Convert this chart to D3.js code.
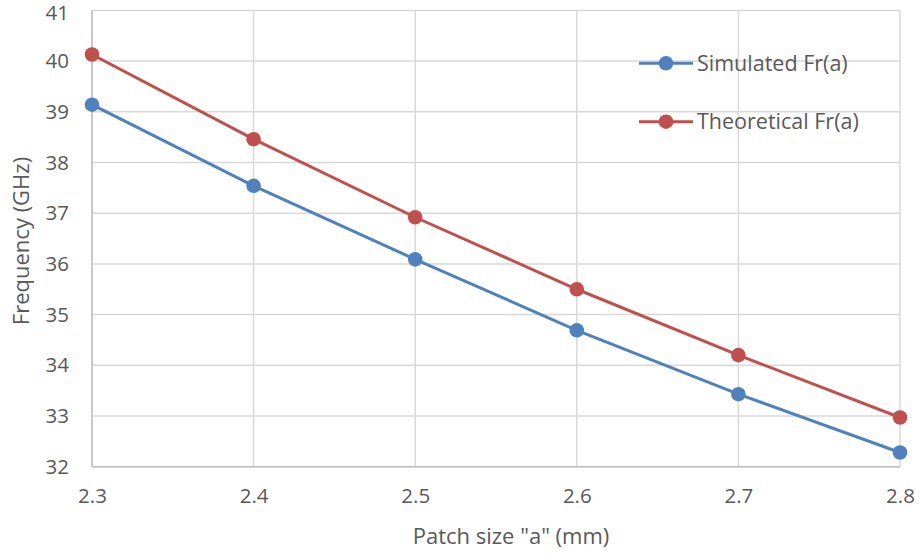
<!DOCTYPE html>
<html><head><meta charset="utf-8">
<script src="https://cdn.jsdelivr.net/npm/d3@7"></script>
<style>body{margin:0;background:#fff;} text{font-family:"Open Sans",sans-serif;fill:#595959;}</style>
</head><body>
<svg id="c" width="920" height="556"></svg>
<script>
const xValues = [2.3, 2.4, 2.5, 2.6, 2.7, 2.8];
const simulated = [39.14, 37.54, 36.09, 34.69, 33.43, 32.28];
const theoretical = [40.13, 38.46, 36.92, 35.50, 34.20, 32.97];
const yTicks = [32, 33, 34, 35, 36, 37, 38, 39, 40, 41];
const seriesNames = ["Simulated Fr(a)", "Theoretical Fr(a)"];
const colors = ["#4F81BD", "#C0504D"];

const FS = "21.5px";
const TFS = "20.5px";
const svg = d3.select("#c");
const x = d3.scaleLinear().domain([2.3, 2.8]).range([92, 900]);
const y = d3.scaleLinear().domain([32, 41]).range([466.7, 10.4]);

// gridlines
svg.append("g").selectAll("line").data(yTicks).join("line")
  .attr("x1", x(2.3)).attr("x2", x(2.8)).attr("y1", d => y(d)).attr("y2", d => y(d))
  .attr("stroke", "#D9D9D9").attr("stroke-width", 1.5);
svg.append("g").selectAll("line").data(xValues).join("line")
  .attr("y1", y(32)).attr("y2", y(41)).attr("x1", d => x(d)).attr("x2", d => x(d))
  .attr("stroke", "#D9D9D9").attr("stroke-width", 1.5);
// axes lines
svg.append("line").attr("x1", x(2.3)).attr("x2", x(2.8)).attr("y1", y(32)).attr("y2", y(32)).attr("stroke", "#BFBFBF").attr("stroke-width", 1.5);
svg.append("line").attr("x1", x(2.3)).attr("x2", x(2.3)).attr("y1", y(32)).attr("y2", y(41)).attr("stroke", "#BFBFBF").attr("stroke-width", 1.5);

// axis tick labels via d3 axes
const yAxis = svg.append("g").attr("transform", `translate(${x(2.3)},0)`)
  .call(d3.axisLeft(y).tickValues(yTicks).tickSize(0).tickPadding(23).tickFormat(d3.format("d")));
yAxis.select(".domain").remove();
yAxis.selectAll("text").style("font-size", TFS).attr("fill", "#595959");
yAxis.selectAll("text").filter(d => d === 41).attr("dy", "0.42em");
const xAxis = svg.append("g").attr("transform", `translate(0,${y(32)})`)
  .call(d3.axisBottom(x).tickValues(xValues).tickSize(0).tickPadding(22).tickFormat(d3.format(".1f")));
xAxis.select(".domain").remove();
xAxis.selectAll("text").style("font-size", TFS).attr("fill", "#595959");

// series
[simulated, theoretical].forEach((vals, i) => {
  const pts = xValues.map((xv, j) => [xv, vals[j]]);
  svg.append("path").datum(pts)
    .attr("d", d3.line().x(d => x(d[0])).y(d => y(d[1])))
    .attr("fill", "none").attr("stroke", colors[i]).attr("stroke-width", 3);
  svg.append("g").selectAll("circle").data(pts).join("circle")
    .attr("cx", d => x(d[0])).attr("cy", d => y(d[1])).attr("r", 7.3).attr("fill", colors[i]);
});

// axis titles
svg.append("text").attr("x", 511).attr("y", 544).attr("text-anchor", "middle").style("font-size", "22px").text('Patch size "a" (mm)');
svg.append("text").attr("transform", "translate(29,241) rotate(-90)").attr("text-anchor", "middle").style("font-size", "22px").text("Frequency (GHz)");

// legend
const leg = svg.append("g");
seriesNames.forEach((n, i) => {
  const ly = [63.3, 121.7][i];
  leg.append("line").attr("x1", 639).attr("x2", 693).attr("y1", ly).attr("y2", ly).attr("stroke", colors[i]).attr("stroke-width", 3);
  leg.append("circle").attr("cx", 666).attr("cy", ly).attr("r", 7.3).attr("fill", colors[i]);
  leg.append("text").attr("x", 697).attr("y", ly).attr("dy", "0.36em").style("font-size", FS).text(n);
});
</script>
</body></html>
